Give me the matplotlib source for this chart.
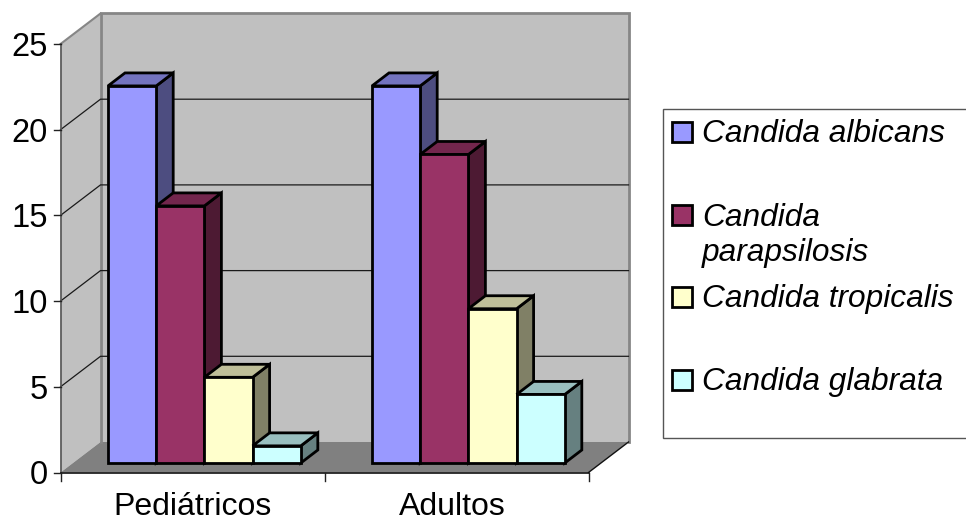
import matplotlib.pyplot as plt
from matplotlib.patches import Polygon, Rectangle

plt.rcParams['font.family'] = ['Liberation Sans', 'DejaVu Sans']

# Data
categories = ['Pediátricos', 'Adultos']
species = ['Candida albicans', 'Candida\nparapsilosis', 'Candida tropicalis', 'Candida glabrata']
albicans = [22, 22]
parapsilosis = [15, 18]
tropicalis = [5, 9]
glabrata = [1, 4]
yticks = [0, 5, 10, 15, 20, 25]

series = [albicans, parapsilosis, tropicalis, glabrata]
front_colors = ['#9999ff', '#993366', '#ffffcc', '#ccffff']
top_colors = ['#7373bf', '#73264d', '#bfbf99', '#99bfbf']
side_colors = ['#4d4d80', '#4d1a33', '#808066', '#668080']

W, H = 966, 521
fig = plt.figure(figsize=(W / 100, H / 100), dpi=100)

# main axes spans the front plane of the box, 0-25 upward
left, right, top, bottom = 60.5, 588.5, 44, 472.5
ax = fig.add_axes([left / W, 1 - bottom / H, (right - left) / W, (bottom - top) / H])
ax.set_xlim(0, 2)
ax.set_ylim(0, 25)
ax.axis('off')

px = 2 / (right - left)
py = 25 / (bottom - top)

wall_dx, wall_dy = 40 * px, 30.5 * py
bar_dx, bar_dy = 17 * px, 13 * py
inset_dy = 9.5 * py
bar_w = 48.2 * px
gap = 47.5 * px


def poly(pts, fc, ec='none', lw=0, z=1):
    ax.add_patch(Polygon(pts, closed=True, facecolor=fc, edgecolor=ec, linewidth=lw,
                         joinstyle='miter', clip_on=False, zorder=z))


# walls and floor
poly([(0, 0), (wall_dx, wall_dy), (wall_dx, 25 + wall_dy), (0, 25)], '#c0c0c0', z=1)
poly([(wall_dx, wall_dy), (2 + wall_dx, wall_dy), (2 + wall_dx, 25 + wall_dy), (wall_dx, 25 + wall_dy)],
     '#c0c0c0', z=1)
poly([(0, 0), (2, 0), (2 + wall_dx, wall_dy), (wall_dx, wall_dy)], '#808080', z=2)
ax.plot([wall_dx, wall_dx, 2 + wall_dx, 2 + wall_dx],
        [wall_dy, 25 + wall_dy, 25 + wall_dy, wall_dy],
        color='#868686', lw=2, clip_on=False, zorder=3, solid_joinstyle='miter')
ax.plot([0, wall_dx], [25, 25 + wall_dy], color='#868686', lw=1.5, clip_on=False, zorder=3)

# gridlines run along the side wall and across the back
for v in yticks[1:-1]:
    ax.plot([0, wall_dx, 2 + wall_dx], [v, v + wall_dy, v + wall_dy],
            color='#1a1a1a', lw=0.9, clip_on=False, zorder=3)

# axis lines and ticks
ax.plot([0, 0], [0, 25], color='#555555', lw=1.2, clip_on=False, zorder=4)
ax.plot([0, 2], [0, 0], color='#111111', lw=1.2, clip_on=False, zorder=4)
ax.plot([2, 2 + wall_dx], [0, wall_dy], color='#111111', lw=1, clip_on=False, zorder=4)
for v in yticks:
    ax.plot([-7 * px, 0], [v, v], color='#222222', lw=1, clip_on=False, zorder=4)
    ax.text(-13 * px, v + 0.01, str(v), ha='right', va='center_baseline', fontsize=23.5, color='black')
for i in range(3):
    ax.plot([i, i], [0, -8 * py], color='#222222', lw=1, clip_on=False, zorder=4)
for x, name in zip([0.5, 1.483], categories):
    ax.text(x, -42.5 * py, name, ha='center', va='baseline', fontsize=23)

# bars, painted left to right so each front covers the side of the one before
z = 5
for i in range(len(categories)):
    for j, vals in enumerate(series):
        v = vals[i]
        x0 = i + gap + j * bar_w
        x1 = x0 + bar_w
        y0 = inset_dy
        y1 = y0 + v
        poly([(x1, y0), (x1 + bar_dx, y0 + bar_dy), (x1 + bar_dx, y1 + bar_dy), (x1, y1)],
             side_colors[j], 'black', 2, z)
        poly([(x0, y1), (x1, y1), (x1 + bar_dx, y1 + bar_dy), (x0 + bar_dx, y1 + bar_dy)],
             top_colors[j], 'black', 2, z)
        poly([(x0, y0), (x1, y0), (x1, y1), (x0, y1)], front_colors[j], 'black', 2, z + 1)
        z += 2

# legend box runs off the right edge
fig.add_artist(Rectangle((662.5 / W, 1 - 438 / H), 320 / W, 329 / H, transform=fig.transFigure,
                         facecolor='white', edgecolor='#555555', linewidth=1))
key_y = [132.5, 215, 297, 380]
label_y = [134.5, 235.5, 299, 382]
for name, color, ky, ly in zip(species, front_colors, key_y, label_y):
    fig.add_artist(Rectangle((672 / W, 1 - (ky + 10) / H), 20 / W, 20 / H, transform=fig.transFigure,
                             facecolor=color, edgecolor='black', linewidth=2))
    fig.text(702 / W, 1 - ly / H, name, ha='left', va='center', fontsize=22.8, style='italic',
             linespacing=1.2)

fig.savefig('out.png', dpi=100)
